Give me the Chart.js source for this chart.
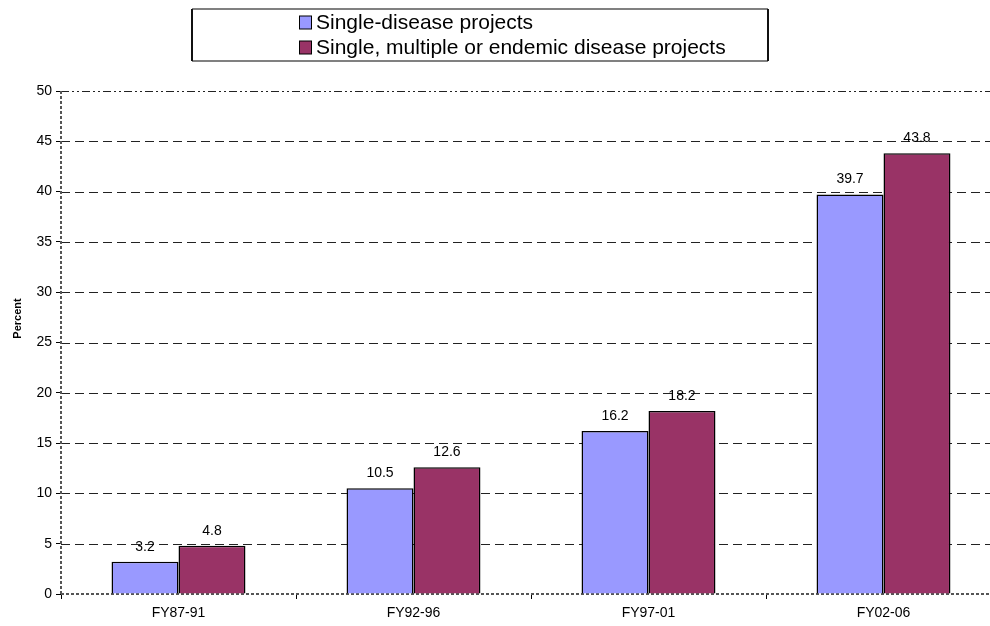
<!DOCTYPE html>
<html>
<head>
<meta charset="utf-8">
<script src="https://cdn.jsdelivr.net/npm/chart.js@4"></script>
<style>
  html, body { margin: 0; padding: 0; background: #fff; overflow: hidden; }
  #wrap { position: relative; width: 1002px; height: 626px; }
</style>
</head>
<body>
<div id="wrap"><canvas id="c"></canvas></div>
<script>
// Share of projects by fiscal-year period
const categories = ['FY87-91', 'FY92-96', 'FY97-01', 'FY02-06'];
const seriesNames = ['Single-disease projects', 'Single, multiple or endemic disease projects'];
const singleDisease = [3.2, 10.5, 16.2, 39.7];
const singleMultipleEndemic = [4.8, 12.6, 18.2, 43.8];
const yTicks = [0, 5, 10, 15, 20, 25, 30, 35, 40, 45, 50];
const yTitle = 'Percent';

const FONT = '"Liberation Sans", Arial, sans-serif';
const colors = ['#9999FF', '#993366'];

// Dashed horizontal gridlines and dashed axis lines
const gridPlugin = {
  id: 'dashedGrid',
  beforeDatasetsDraw(chart) {
    const { ctx, chartArea: a, scales: { y } } = chart;
    ctx.save();
    ctx.lineWidth = 1;
    ctx.strokeStyle = '#222';
    yTicks.forEach(v => {
      if (v === 0) return;
      ctx.setLineDash(v === 50 ? [8, 3, 2, 3, 2, 3] : [9, 5]);
      const py = Math.round(y.getPixelForValue(v)) + 0.5;
      ctx.beginPath();
      ctx.moveTo(a.left, py);
      ctx.lineTo(a.right, py);
      ctx.stroke();
    });
    // axis lines
    ctx.strokeStyle = '#555';
    ctx.lineWidth = 2;
    ctx.setLineDash([3, 2]);
    const py0 = Math.round(y.getPixelForValue(0));
    ctx.beginPath();
    ctx.moveTo(a.left, py0);
    ctx.lineTo(a.right, py0);
    ctx.stroke();
    ctx.beginPath();
    ctx.moveTo(a.left, a.top);
    ctx.lineTo(a.left, py0);
    ctx.stroke();
    ctx.restore();
  }
};

// Value labels above each bar
const valueLabels = {
  id: 'valueLabels',
  afterDatasetsDraw(chart) {
    const { ctx } = chart;
    ctx.save();
    ctx.font = '14px ' + FONT;
    ctx.fillStyle = '#000';
    ctx.textAlign = 'center';
    ctx.textBaseline = 'middle';
    chart.data.datasets.forEach((ds, di) => {
      chart.getDatasetMeta(di).data.forEach((bar, i) => {
        ctx.fillText(ds.data[i].toFixed(1), bar.x, bar.y - 15);
      });
    });
    ctx.restore();
  }
};

// Rotated value-axis title
const axisTitle = {
  id: 'axisTitle',
  afterDraw(chart) {
    const { ctx, chartArea: a } = chart;
    ctx.save();
    ctx.font = 'bold 11px ' + FONT;
    ctx.fillStyle = '#000';
    ctx.textAlign = 'center';
    ctx.textBaseline = 'middle';
    ctx.translate(18, (a.top + a.bottom) / 2 - 24);
    ctx.rotate(-Math.PI / 2);
    ctx.fillText(yTitle, 0, 0);
    ctx.restore();
  }
};

// Boxed legend at the top, one entry per line
const boxLegend = {
  id: 'boxLegend',
  afterDraw(chart) {
    const { ctx } = chart;
    const left = 192, right = 768, top = 9, bottom = 61;
    ctx.save();
    ctx.lineWidth = 2;
    ctx.strokeStyle = '#808080';
    ctx.beginPath();
    ctx.moveTo(left, top); ctx.lineTo(right, top);
    ctx.moveTo(left, bottom); ctx.lineTo(right, bottom);
    ctx.stroke();
    ctx.strokeStyle = '#111';
    ctx.beginPath();
    ctx.moveTo(left, top); ctx.lineTo(left, bottom);
    ctx.moveTo(right, top); ctx.lineTo(right, bottom);
    ctx.stroke();
    ctx.font = '21px ' + FONT;
    ctx.textBaseline = 'middle';
    ctx.textAlign = 'left';
    seriesNames.forEach((name, i) => {
      const cy = 22.5 + i * 25;
      ctx.fillStyle = colors[i];
      ctx.fillRect(299.5, cy - 6.5, 12, 13);
      ctx.lineWidth = 1;
      ctx.strokeStyle = '#000';
      ctx.strokeRect(299.5, cy - 6.5, 12, 13);
      ctx.fillStyle = '#000';
      ctx.fillText(name, 316, cy + 1);
    });
    ctx.restore();
  }
};

new Chart(document.getElementById('c'), {
  type: 'bar',
  data: {
    labels: categories,
    datasets: [
      { label: seriesNames[0], data: singleDisease, backgroundColor: colors[0], borderColor: '#000', borderWidth: 1.5 },
      { label: seriesNames[1], data: singleMultipleEndemic, backgroundColor: colors[1], borderColor: '#000', borderWidth: 1.5 }
    ]
  },
  options: {
    responsive: true,
    maintainAspectRatio: false,
    animation: false,
    devicePixelRatio: 1,
    layout: { padding: { top: 91, right: 1, bottom: 0, left: 0 } },
    datasets: { bar: { categoryPercentage: 0.57, barPercentage: 1.0 } },
    plugins: { legend: { display: false }, tooltip: { enabled: false } },
    scales: {
      x: {
        grid: { display: true, drawOnChartArea: false, drawTicks: true, tickLength: 5, color: '#000', offset: true },
        border: { display: false },
        ticks: { color: '#000', font: { family: FONT, size: 14 }, padding: 6, maxRotation: 0 },
        afterFit(s) { s.height = 32; }
      },
      y: {
        min: 0, max: 50,
        afterBuildTicks(s) { s.ticks = yTicks.map(v => ({ value: v })); },
        grid: { display: true, drawOnChartArea: false, drawTicks: true, tickLength: 5, color: '#000' },
        border: { display: false },
        ticks: { color: '#000', font: { family: FONT, size: 14 }, padding: 4 },
        title: { display: false },
        afterFit(s) { s.width = 61; }
      }
    }
  },
  plugins: [gridPlugin, valueLabels, axisTitle, boxLegend]
});
</script>
</body>
</html>
